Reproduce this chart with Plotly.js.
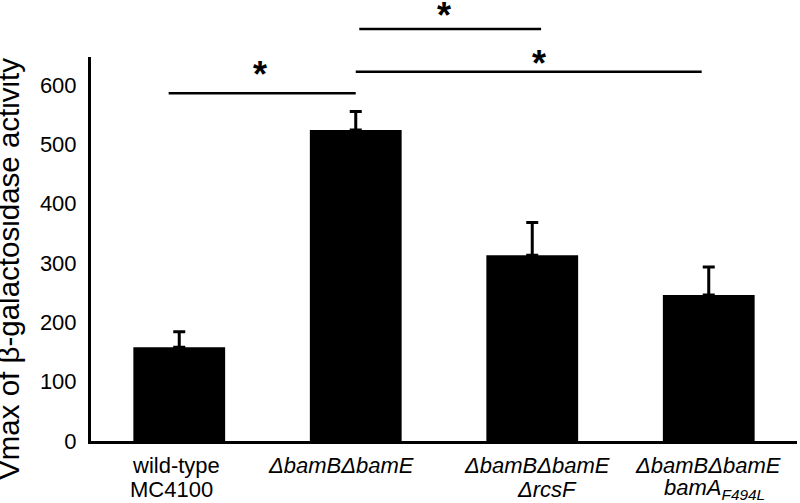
<!DOCTYPE html>
<html>
<head>
<meta charset="utf-8">
<script src="https://cdn.plot.ly/plotly-3.0.1.min.js"></script>
<style>html,body{margin:0;padding:0;background:#fff;}#chart{width:800px;height:503px;}</style>
</head>
<body>
<div id="chart"></div>
<script>
// Category labels: first line and second line
var categories = [
  "wild-type",
  "<i>ΔbamBΔbamE</i>",
  "<i>ΔbamBΔbamE</i>",
  "<i>ΔbamBΔbamE</i>"
];
var categoriesLine2 = [
  "MC4100",
  "",
  "<i>ΔrcsF</i>",
  "<i>bamA<sub>F494L</sub></i>"
];
// Vmax values and error (upper only)
var vmax = [158, 524, 313, 246];
var vmaxErr = [26, 31, 55, 47];

// Significance brackets (category index units, value units)
var bracketFrom = [-0.06, 1.02, 1.0];
var bracketTo = [1.0, 2.05, 2.96];
var bracketLevel = [586, 694, 622];
var starX = [0.46, 1.5, 2.04];
var starY = [617, 717, 636];
var starText = ["*", "*", "*"];

var yMax = 647;
var yTicks = [0, 100, 200, 300, 400, 500, 600];
var yTitle = "Vmax of β-galactosidase activity";

// layout tweaks (pixel offsets of label lines, not data)
var labelLayout = {
  line1Shift: [-3, -15, 5, -1],
  line2Shift: [-8, 0, 15, 6],
  line1Y: -0.064,
  line2Y: -0.125
};

var xIdx = categories.map(function(c, i){ return i; });
var FONT = "Liberation Sans, Arial, sans-serif";

var trace = {
  type: "bar",
  x: xIdx,
  y: vmax,
  width: 0.52,
  marker: {color: "#000000", line: {width: 0}},
  error_y: {
    type: "data",
    symmetric: false,
    array: vmaxErr,
    arrayminus: vmaxErr.map(function(){ return 0; }),
    color: "#000000",
    thickness: 3,
    width: 6
  },
  hoverinfo: "skip"
};

var shapes = bracketFrom.map(function(f, i){
  return {
    type: "line", xref: "x", yref: "paper",
    x0: f, x1: bracketTo[i],
    y0: bracketLevel[i] / yMax, y1: bracketLevel[i] / yMax,
    line: {color: "#000000", width: 2.5}
  };
});

var annotations = starX.map(function(x, i){
  return {
    xref: "x", yref: "paper", x: x, y: starY[i] / yMax,
    text: "<b>" + starText[i] + "</b>", showarrow: false,
    xanchor: "center", yanchor: "middle",
    font: {family: FONT, size: 36, color: "#000"}
  };
});
categories.forEach(function(t, i){
  annotations.push({
    xref: "x", yref: "paper", x: i, y: labelLayout.line1Y,
    xshift: labelLayout.line1Shift[i],
    text: t, showarrow: false, xanchor: "center", yanchor: "middle",
    font: {family: FONT, size: 22, color: "#000"}
  });
});
categoriesLine2.forEach(function(t, i){
  if (!t) return;
  annotations.push({
    xref: "x", yref: "paper", x: i, y: labelLayout.line2Y,
    xshift: labelLayout.line2Shift[i],
    text: t, showarrow: false, xanchor: "center", yanchor: "middle",
    font: {family: FONT, size: 22, color: "#000"}
  });
});
annotations.push({
  xref: "paper", yref: "paper", x: -0.143, y: 0.447,
  text: yTitle, showarrow: false, textangle: -90,
  xanchor: "left", yanchor: "middle",
  font: {family: FONT, size: 29.5, color: "#000"}
});

var layout = {
  width: 800, height: 503,
  margin: {l: 91, r: 3, t: 57, b: 62, pad: 0},
  paper_bgcolor: "#ffffff", plot_bgcolor: "#ffffff",
  showlegend: false,
  font: {family: FONT, size: 22, color: "#000"},
  xaxis: {
    type: "linear",
    range: [-0.5, 3.5],
    tickmode: "array",
    tickvals: xIdx,
    showticklabels: false,
    showgrid: false, zeroline: false,
    showline: true, linecolor: "#000", linewidth: 3,
    ticks: "",
    automargin: false,
    fixedrange: true
  },
  yaxis: {
    range: [0, yMax],
    tickvals: yTicks,
    showgrid: false, zeroline: false,
    showline: true, linecolor: "#000", linewidth: 3,
    ticks: "", ticklabelstandoff: 7,
    tickfont: {size: 22},
    automargin: false,
    fixedrange: true
  },
  shapes: shapes,
  annotations: annotations
};

Plotly.newPlot("chart", [trace], layout, {displayModeBar: false, staticPlot: true});
</script>
</body>
</html>
